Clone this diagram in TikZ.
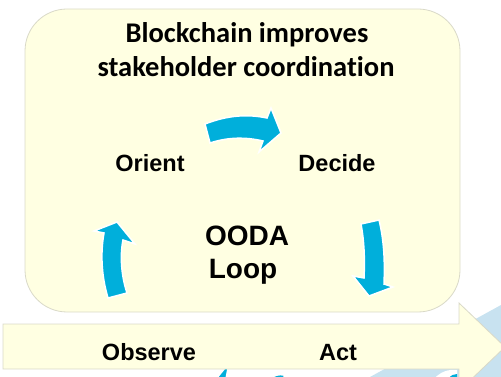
\documentclass[tikz,border=0pt]{standalone}
\usepackage{fontspec}
\setmainfont{Liberation Sans}
\newfontfamily\titlefont[Ligatures=NoCommon]{Carlito}
\definecolor{boxfill}{RGB}{255,255,226}
\definecolor{boxline}{RGB}{217,217,200}
\definecolor{loopcyan}{RGB}{0,175,219}
\definecolor{paleblue}{RGB}{200,226,240}
\tikzset{
  titletext/.style={anchor=base,font=\titlefont\bfseries\fontsize{28.5}{31}\selectfont},
  steptext/.style={anchor=base,font=\bfseries\fontsize{23.5}{26}\selectfont},
  oodatext/.style={anchor=base,font=\bfseries\fontsize{28}{33}\selectfont},
  looparrow/.style={fill=loopcyan,draw=white,line width=1.5pt,line join=miter},
  panel/.style={fill=boxfill,draw=boxline,line width=0.8pt}
}
\begin{document}
\begin{tikzpicture}[x=1pt,y=-1pt]
\useasboundingbox (0,0) rectangle (501,377);
\clip (0,0) rectangle (501,377);
% pale blue background shape
\fill[paleblue] (370,377) -- (501,305) -- (501,377) -- cycle;
% cut-off pieces at the bottom
\draw[looparrow] (216,379) -- (229,363) -- (226,379) -- cycle;
\draw[looparrow] (270,379) .. controls (274,375) and (279,374) .. (284,375) -- (284,379) -- cycle;
\fill[white] (434,379) .. controls (440,372) and (448,369) .. (457,370) -- (457,379) -- cycle;
\fill[loopcyan] (448,379) .. controls (451,375) and (454,374) .. (457,374) -- (457,379) -- cycle;
% big horizontal arrow
\draw[panel] (3,324) -- (459,324) -- (459,303) -- (505,347) -- (459,391) -- (459,369) -- (3,369) -- cycle;
% rounded panel
\draw[panel,rounded corners=42pt] (25,9) rectangle (460,312);
% loop arrows
\draw[looparrow] (205,124) .. controls (228,115) and (248,114) .. (267,118) -- (271,108) -- (281,133) -- (259,152) -- (263,141) .. controls (246,137) and (228,137) .. (210,143) -- cycle;
\draw[looparrow] (361,224) -- (379,220) .. controls (384,240) and (385,262) .. (384,284) -- (393,287) -- (369,296) -- (353,276) -- (364,278) .. controls (365,258) and (364,240) .. (361,224) -- cycle;
\draw[looparrow] (108,298) -- (127,293) .. controls (121,275) and (120,255) .. (123,240) -- (135,244) -- (117,222) -- (94,231) -- (104,233) .. controls (100,255) and (102,278) .. (108,298) -- cycle;
% texts
\node[titletext] (t1) at (247,43) {Blockchain improves};
\node[titletext] (t2) at (246,77) {stakeholder coordination};
\node[steptext] (orient) at (150,172) {Orient};
\node[steptext] (decide) at (337,172) {Decide};
\node[steptext] (observe) at (149,360) {Observe};
\node[steptext] (act) at (338,360) {Act};
\node[oodatext] (ooda) at (247,245) {OODA};
\node[oodatext] (loop) at (243,278) {Loop};
\end{tikzpicture}
\end{document}
